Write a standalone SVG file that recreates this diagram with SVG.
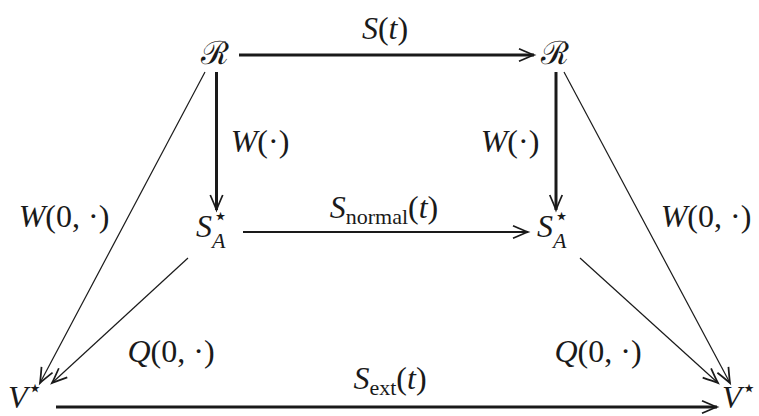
<svg xmlns="http://www.w3.org/2000/svg" width="759" height="416" viewBox="0 0 759 416">
<style>
.m{font-family:"Liberation Serif","DejaVu Serif",serif;font-style:italic;font-size:32px;fill:#1a1a1a}
.u{font-style:normal}
.s{font-size:22px}
.cal{font-family:"DejaVu Serif",serif;font-style:normal;font-size:32px;fill:#1a1a1a}
.st{font-family:"DejaVu Sans",sans-serif;font-style:normal;font-size:24px}
.thick{stroke:#1a1a1a;stroke-width:3;fill:none}
.mid{stroke:#1a1a1a;stroke-width:2.2;fill:none}
.thin{stroke:#1a1a1a;stroke-width:1.2;fill:none}
</style>
<defs>
<marker id="ah" markerUnits="userSpaceOnUse" orient="auto" markerWidth="20" markerHeight="20" refX="0" refY="0" viewBox="-14 -7 16 14" overflow="visible">
<path d="M-12,-5 Q-4,-1.5 0,0 Q-4,1.5 -12,5" fill="none" stroke="#1a1a1a" stroke-width="1.4"/>
</marker>
</defs>
<g id="connectors">
<line class="thick" x1="239" y1="55" x2="534" y2="55" marker-end="url(#ah)"/>
<line class="thick" x1="216.5" y1="72" x2="216.5" y2="210" marker-end="url(#ah)"/>
<line class="thick" x1="556" y1="72" x2="556" y2="210" marker-end="url(#ah)"/>
<line class="mid" x1="243" y1="232" x2="528" y2="232" marker-end="url(#ah)"/>
<line class="thick" x1="56" y1="407" x2="717" y2="407" marker-end="url(#ah)"/>
<line class="thin" x1="205" y1="72" x2="40" y2="383" marker-end="url(#ah)"/>
<line class="thin" x1="188" y1="258" x2="52" y2="383" marker-end="url(#ah)"/>
<line class="thin" x1="564" y1="72" x2="730" y2="383" marker-end="url(#ah)"/>
<line class="thin" x1="580" y1="258" x2="718" y2="383" marker-end="url(#ah)"/>
</g>
<g id="R1"><text class="cal" x="215" y="64" text-anchor="middle">ℛ</text></g>
<g id="R2"><text class="cal" x="555" y="64" text-anchor="middle">ℛ</text></g>
<g id="SA1"><text class="m" x="196" y="237">S<tspan class="st" dx="1" dy="-13">⋆</tspan><tspan class="s" dx="-16" dy="24">A</tspan></text></g>
<g id="SA2"><text class="m" x="537" y="237">S<tspan class="st" dx="1" dy="-13">⋆</tspan><tspan class="s" dx="-16" dy="24">A</tspan></text></g>
<g id="V1"><text class="m" x="8" y="408">V<tspan class="st" dy="-12">⋆</tspan></text></g>
<g id="V2"><text class="m" x="722" y="408">V<tspan class="st" dy="-12">⋆</tspan></text></g>
<g id="labels">
<text class="m" x="385" y="39" text-anchor="middle">S<tspan class="u">(</tspan>t<tspan class="u">)</tspan></text>
<text class="m" x="260" y="152" text-anchor="middle">W<tspan class="u">(·)</tspan></text>
<text class="m" x="510" y="152" text-anchor="middle">W<tspan class="u">(·)</tspan></text>
<text class="m" x="64" y="227" text-anchor="middle">W<tspan class="u">(0, ·)</tspan></text>
<text class="m" x="706" y="227" text-anchor="middle">W<tspan class="u">(0, ·)</tspan></text>
<text class="m" x="384" y="218" text-anchor="middle">S<tspan class="u s" dy="6">normal</tspan><tspan class="u" dy="-6">(</tspan>t<tspan class="u">)</tspan></text>
<text class="m" x="171" y="362" text-anchor="middle">Q<tspan class="u">(0, ·)</tspan></text>
<text class="m" x="598" y="362" text-anchor="middle">Q<tspan class="u">(0, ·)</tspan></text>
<text class="m" x="390" y="389" text-anchor="middle">S<tspan class="u s" dy="6">ext</tspan><tspan class="u" dy="-6">(</tspan>t<tspan class="u">)</tspan></text>
</g>
</svg>
